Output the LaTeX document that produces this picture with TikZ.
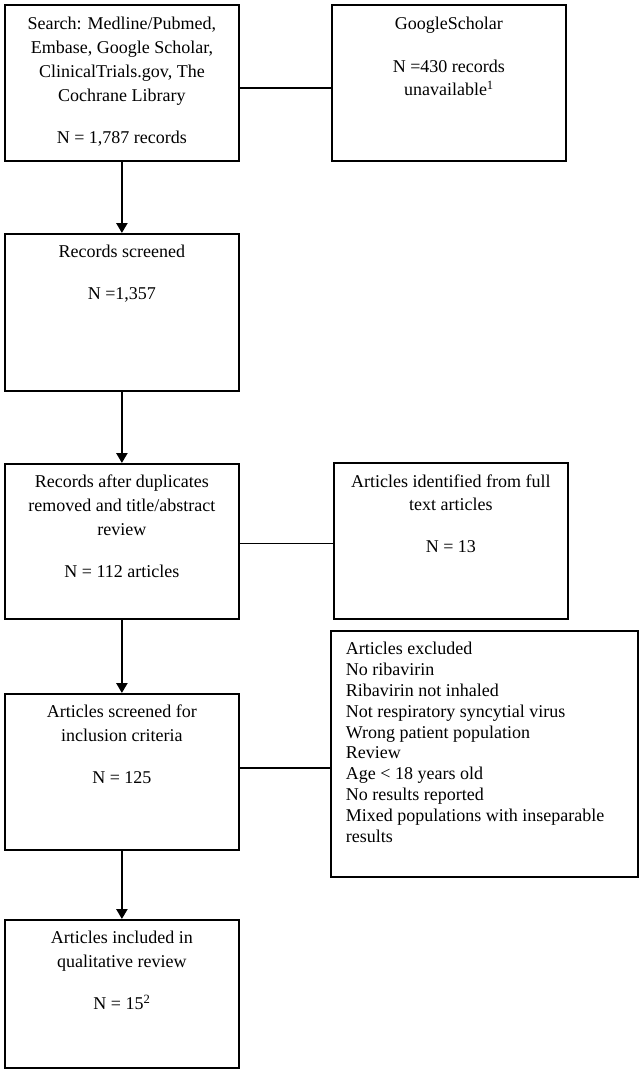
\documentclass[tikz,border=0pt]{standalone}
\usepackage{fontspec}
\setmainfont{Liberation Serif}
\usetikzlibrary{arrows.meta,calc}
\newcommand{\bxtext}[3]{\parbox[c][#2][t]{#1}{\centering #3}}
\begin{document}
\begin{tikzpicture}[x=1pt,y=-1pt,
  flowbox/.style={draw=black, line width=1.8pt, inner sep=0pt, anchor=north west,
    font=\fontsize{18}{24}\selectfont},
  joinline/.style={draw=black, line width=1.6pt},
  flowarrow/.style={draw=black, line width=2.4pt, -{Triangle[width=11pt,length=10pt]}}]
\useasboundingbox[fill=white] (0,0) rectangle (642,1080);

\node[flowbox] (b1) at (4,4) {\bxtext{234pt}{156pt}{\rule{0pt}{25pt}Search: Medline/Pubmed,\\ Embase, Google Scholar,\\ ClinicalTrials.gov, The\\ Cochrane Library\\[18pt] N = 1,787 records}};

\node[flowbox] (b2) at (331,4) {\bxtext{234pt}{156pt}{\rule{0pt}{25pt}GoogleScholar\\[19pt] N =430 records\\[-1pt] unavailable\textsuperscript{1}}};

\node[flowbox] (b3) at (4,233) {\bxtext{234pt}{157pt}{\rule{0pt}{24pt}Records screened\\[18pt] N =1,357}};

\node[flowbox] (b4) at (4,463) {\bxtext{234pt}{155pt}{\rule{0pt}{24pt}Records after duplicates\\ removed and title/abstract\\ review\\[18pt] N = 112 articles}};

\node[flowbox] (b5) at (333,462) {\bxtext{234pt}{156pt}{\rule{0pt}{25pt}Articles identified from full\\[-1pt] text articles\\[18pt] N = 13}};

\node[flowbox] (b6) at (4,693) {\bxtext{234pt}{156pt}{\rule{0pt}{24pt}Articles screened for\\ inclusion criteria\\[18pt] N = 125}};

\node[flowbox, font=\fontsize{18}{20.8}\selectfont] (b7) at (330,630) {\parbox[c][246pt][t]{307pt}{\raggedright\leftskip=15pt
\rule{0pt}{24pt}Articles excluded\\
No ribavirin\\
Ribavirin not inhaled\\
Not respiratory syncytial virus\\
Wrong patient population\\
Review\\
Age < 18 years old\\
No results reported\\
Mixed populations with inseparable\\
results}};

\node[flowbox] (b8) at (4,919) {\bxtext{234pt}{148pt}{\rule{0pt}{24pt}Articles included in\\ qualitative review\\[18pt] N = 15\textsuperscript{2}}};

\draw[joinline] ([yshift=-5pt]b1.east) -- ([yshift=-5pt]b1.east -| b2.west);
\draw[joinline] ([yshift=-2pt]b4.east) -- ([yshift=-2pt]b4.east -| b5.west);
\draw[joinline] ([yshift=4pt]b6.east) -- ([yshift=4pt]b6.east -| b7.west);

\draw[flowarrow] (b1.south) -- (b3.north);
\draw[flowarrow] (b3.south) -- (b4.north);
\draw[flowarrow] (b4.south) -- (b6.north);
\draw[flowarrow] (b6.south) -- (b8.north);
\end{tikzpicture}
\end{document}
